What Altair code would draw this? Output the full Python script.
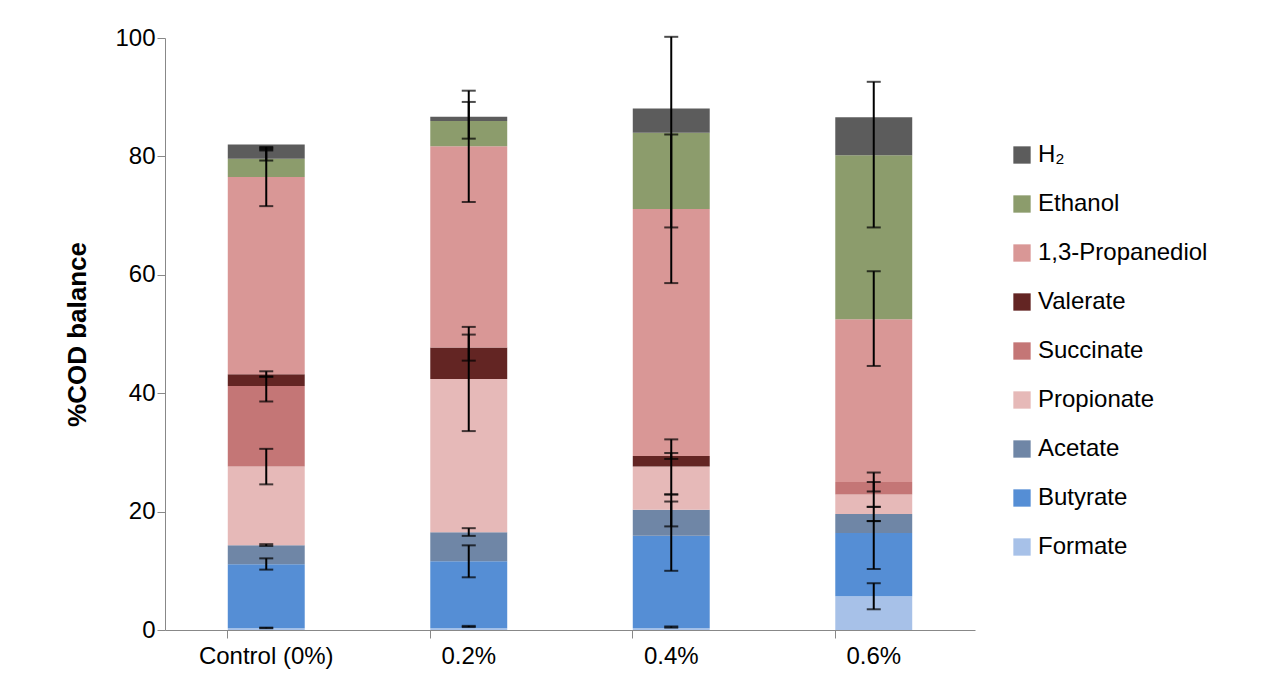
import altair as alt
import pandas as pd

groups = ["Control (0%)", "0.2%", "0.4%", "0.6%"]
components = ["Formate", "Butyrate", "Acetate", "Propionate", "Succinate",
              "Valerate", "1,3-Propanediol", "Ethanol", "H₂"]
colors = ["#a7c1e8", "#558ed5", "#6f86a6", "#e6b9b8", "#c47676",
          "#632523", "#d99796", "#8c9c6c", "#5c5c5c"]

# cumulative tops of each stacked segment (bottom -> top)
tops = {
    "Control (0%)": [0.3, 11.1, 14.3, 27.6, 41.2, 43.2, 76.5, 79.6, 82.0],
    "0.2%":         [0.3, 11.6, 16.5, 42.4, 42.4, 47.7, 81.7, 86.0, 86.7],
    "0.4%":         [0.3, 15.9, 20.3, 27.6, 27.6, 29.4, 71.1, 84.0, 88.1],
    "0.6%":         [5.7, 16.4, 19.6, 22.9, 25.0, 25.0, 52.5, 80.2, 86.6],
}
# error bar low / high per segment (None = no bar)
err_lo = {
    "Control (0%)": [0.3, 10.2, 14.2, 24.6, 38.6, 42.8, 71.6, 79.3, 81.2],
    "0.2%":         [0.5, 8.9, 15.9, 33.6, None, 45.5, 72.3, 83.0, None],
    "0.4%":         [0.4, 10.0, 17.5, 22.9, None, 28.9, 58.6, 68.0, None],
    "0.6%":         [3.5, 10.3, 18.4, 20.8, 23.4, None, 44.6, 68.0, None],
}
err_hi = {
    "Control (0%)": [0.4, 12.1, 14.5, 30.6, 42.8, 43.7, 81.4, 81.0, 81.6],
    "0.2%":         [0.7, 14.3, 17.2, 51.2, None, 49.9, 89.2, 91.1, None],
    "0.4%":         [0.6, 21.7, 22.9, 32.2, None, 29.9, 83.7, 100.2, None],
    "0.6%":         [7.9, 18.4, 20.8, 25.0, 26.6, None, 60.6, 92.6, None],
}

rows, errs = [], []
for g in groups:
    prev = 0.0
    for i, c in enumerate(components):
        rows.append({"group": g, "comp": c, "order": i, "y0": prev, "y1": tops[g][i]})
        prev = tops[g][i]
        if err_lo[g][i] is not None:
            errs.append({"group": g, "lo": err_lo[g][i], "hi": err_hi[g][i]})
df = pd.DataFrame(rows)
df_err = pd.DataFrame(errs)

font = "Liberation Sans"
x = alt.X("group:N", sort=groups, title=None,
          scale=alt.Scale(paddingInner=0.62, paddingOuter=0.31),
          axis=alt.Axis(labelAngle=0, labelFontSize=24, labelFont=font, labelColor="black",
                        bandPosition=0, tickSize=8, tickColor="#888", domainColor="#888",
                        labelPadding=6))

bars = alt.Chart(df).mark_bar().encode(
    x=x,
    y=alt.Y("y0:Q", title="%COD balance",
            scale=alt.Scale(domain=[0, 100]),
            axis=alt.Axis(values=[0, 20, 40, 60, 80, 100], grid=False, labelFontSize=24,
                          labelFont=font, labelColor="black", titleFontSize=26,
                          titleFont=font, titleFontWeight="bold", titleColor="black",
                          tickColor="#888", domainColor="#888", tickSize=8, titlePadding=24)),
    y2="y1:Q",
    color=alt.Color("comp:N", scale=alt.Scale(domain=components[::-1], range=colors[::-1]),
                    legend=alt.Legend(title=None, orient="none", legendX=845, legendY=105,
                                      labelFontSize=24, labelFont=font, labelColor="black",
                                      labelLimit=400, symbolType="square", symbolSize=300,
                                      rowPadding=25, symbolStrokeWidth=0)),
    order="order:Q",
)

rule = alt.Chart(df_err).mark_rule(color="black", strokeWidth=2).encode(
    x=alt.X("group:N", sort=groups), y="lo:Q", y2="hi:Q")
cap_lo = alt.Chart(df_err).mark_tick(color="black", size=14, thickness=2, orient="horizontal").encode(
    x=alt.X("group:N", sort=groups), y="lo:Q")
cap_hi = alt.Chart(df_err).mark_tick(color="black", size=14, thickness=2, orient="horizontal").encode(
    x=alt.X("group:N", sort=groups), y="hi:Q")

chart = (bars + rule + cap_lo + cap_hi).properties(
    width=810, height=592, padding={"left": 56, "top": 18, "right": 10, "bottom": 10}
).configure_view(stroke=None)

chart.save("out.html", embed_options={"renderer": "svg", "actions": False})
